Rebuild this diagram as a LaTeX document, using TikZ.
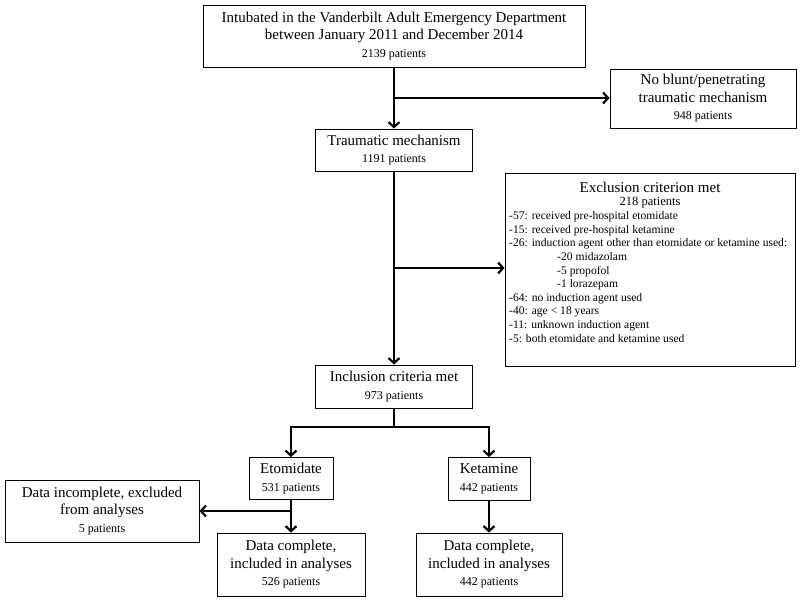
\documentclass[tikz,border=0pt]{standalone}
\usepackage{fontspec}
\setmainfont{Liberation Serif}
\usetikzlibrary{arrows.meta}
\newcommand\mypat[1]{\\{\fontsize{12}{14}\selectfont #1}}
\begin{document}
\begin{tikzpicture}[x=1pt,y=-1pt,
  box/.style={draw, line width=0.9pt, inner sep=0pt, align=center, font=\fontsize{15}{17.5}\selectfont},
  flow/.style={line width=2.3pt, line join=miter, -{Straight Barb[length=5pt,width=11pt,line width=2.2pt]}},
  conn/.style={line width=2.3pt}]
\useasboundingbox (0,0) rectangle (800,601);
\node[box, minimum width=382, minimum height=62] (top) at (394,36) {Intubated in the Vanderbilt Adult Emergency Department\\between January 2011 and December 2014\mypat{2139 patients}};
\node[box, minimum width=186, minimum height=59] (nob) at (703,98.5) {No blunt/penetrating\\traumatic mechanism\mypat{948 patients}};
\node[box, minimum width=157, minimum height=42] (trm) at (394,150) {Traumatic mechanism\mypat{1191 patients}};
\node[draw, line width=0.9pt, minimum width=290, minimum height=193, inner sep=0pt] (exc) at (650,269.5) {};
\node[font=\fontsize{15}{17}\selectfont, inner sep=0pt] (exct) at (650,187) {Exclusion criterion met};
\node[font=\fontsize{12.5}{14}\selectfont, inner sep=0pt] (excn) at (650,202.5) {218 patients};
\node[anchor=north west, align=left, font=\fontsize{11.6}{13.6}\selectfont, inner sep=0pt] (excl) at (509,211.5) {-57: received pre-hospital etomidate\\
-15: received pre-hospital ketamine\\
-26: induction agent other than etomidate or ketamine used:\\
\hspace*{48pt}-20 midazolam\\
\hspace*{48pt}-5 propofol\\
\hspace*{48pt}-1 lorazepam\\
-64: no induction agent used\\
-40: age < 18 years\\
-11: unknown induction agent\\
-5: both etomidate and ketamine used};
\node[box, minimum width=157, minimum height=43] (inc) at (394,386.5) {Inclusion criteria met\mypat{973 patients}};
\node[box, minimum width=84, minimum height=42] (eto) at (291,478.5) {Etomidate\mypat{531 patients}};
\node[box, minimum width=82, minimum height=43] (ket) at (489,479) {Ketamine\mypat{442 patients}};
\node[box, minimum width=194, minimum height=62] (inx) at (102,511) {Data incomplete, excluded\\from analyses\mypat{5 patients}};
\node[box, minimum width=148, minimum height=63] (cpe) at (291,564.5) {Data complete,\\included in analyses\mypat{526 patients}};
\node[box, minimum width=146, minimum height=63] (cpk) at (489,564.5) {Data complete,\\included in analyses\mypat{442 patients}};
\coordinate (j1) at (394,98);
\coordinate (j2) at (394,268);
\coordinate (j3) at (394,427);
\coordinate (j4) at (291,511);
\draw[flow] (top) -- (trm);
\draw[flow] (j1) -- (j1 -| nob.west);
\draw[flow] (trm) -- (inc);
\draw[flow] (j2) -- (j2 -| exc.west);
\draw[conn] (inc.south) -- (j3);
\draw[flow] (j3) -| (eto);
\draw[flow] (j3) -| (ket);
\draw[flow] (eto) -- (cpe);
\draw[flow] (j4) -- (j4 -| inx.east);
\draw[flow] (ket) -- (cpk);
\end{tikzpicture}
\end{document}
